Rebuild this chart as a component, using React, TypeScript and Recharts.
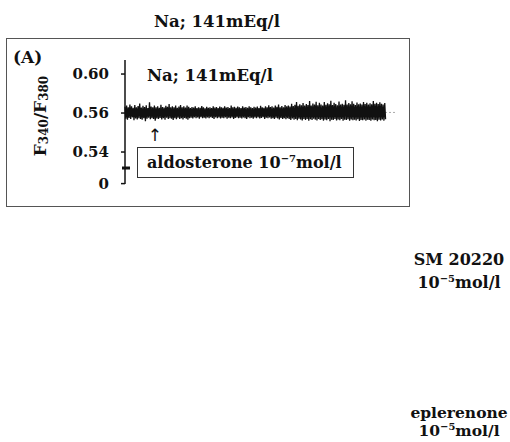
import { LineChart, Line, XAxis, YAxis, ReferenceLine } from 'recharts'

// F340/F380 trace (roughly one value per 0.8px column)
const ratio = [
  0.5632, 0.5571, 0.5638, 0.5566, 0.5629, 0.5575, 0.5644, 0.5569, 0.5634, 0.5578, 0.5627, 0.5563, 0.5641, 0.5572, 0.563, 0.5567, 0.5636, 0.5574, 0.5649, 0.557,
  0.5628, 0.5566, 0.5637, 0.5573, 0.5631, 0.5558, 0.564, 0.5571, 0.5626, 0.5576, 0.5655, 0.5568, 0.5633, 0.5574, 0.5629, 0.5569, 0.5639, 0.5561, 0.563, 0.5572,
  0.5635, 0.557, 0.5627, 0.5575, 0.5642, 0.5567, 0.5631, 0.5573, 0.5628, 0.5566, 0.5637, 0.5576, 0.5632, 0.5569, 0.5646, 0.5574, 0.5629, 0.5571, 0.5634, 0.5565,
  0.563, 0.5574, 0.5638, 0.5568, 0.5627, 0.5576, 0.5633, 0.557, 0.5641, 0.5573, 0.5629, 0.5567, 0.5635, 0.5575, 0.5628, 0.5571, 0.5639, 0.5566, 0.5632, 0.5573,
  0.5626, 0.5576, 0.5631, 0.5572, 0.5628, 0.5578, 0.5634, 0.5573, 0.5625, 0.5577, 0.563, 0.5571, 0.5627, 0.5579, 0.5636, 0.5574, 0.5629, 0.5576, 0.5624, 0.5572,
  0.5632, 0.5577, 0.5627, 0.5573, 0.563, 0.5579, 0.5625, 0.5575, 0.5635, 0.557, 0.5628, 0.5578, 0.5631, 0.5574, 0.5626, 0.5577, 0.5633, 0.5572, 0.5629, 0.5576,
  0.5627, 0.5574, 0.5634, 0.5578, 0.5628, 0.5571, 0.5631, 0.5576, 0.5625, 0.5573, 0.5638, 0.5577, 0.5629, 0.557, 0.5632, 0.5575, 0.5627, 0.5578, 0.5633, 0.5573,
  0.563, 0.5576, 0.5626, 0.5572, 0.5635, 0.5577, 0.5628, 0.5574, 0.5631, 0.5569, 0.5627, 0.5578, 0.5634, 0.5573, 0.5629, 0.5576, 0.5625, 0.5571, 0.5632, 0.5577,
  0.5628, 0.5573, 0.5633, 0.5578, 0.5626, 0.5572, 0.5637, 0.5575, 0.563, 0.5579, 0.5627, 0.557, 0.5634, 0.5576, 0.5629, 0.5573, 0.564, 0.5577, 0.5631, 0.5571,
  0.5635, 0.5574, 0.5628, 0.5569, 0.5638, 0.5576, 0.5632, 0.5572, 0.5643, 0.5567, 0.563, 0.5575, 0.5636, 0.557, 0.5629, 0.5573, 0.5641, 0.5568, 0.5634, 0.5574,
  0.5639, 0.5569, 0.5633, 0.5564, 0.5648, 0.5572, 0.5636, 0.5566, 0.5642, 0.557, 0.5657, 0.5563, 0.5637, 0.5571, 0.5645, 0.5567, 0.564, 0.5562, 0.5651, 0.5569,
  0.5638, 0.5565, 0.5646, 0.557, 0.5641, 0.556, 0.5662, 0.5568, 0.5639, 0.5564, 0.5649, 0.5571, 0.5643, 0.5566, 0.5658, 0.5562, 0.564, 0.5569, 0.5653, 0.5565,
  0.5644, 0.5568, 0.5639, 0.5561, 0.5656, 0.5567, 0.5642, 0.5563, 0.565, 0.557, 0.5645, 0.5558, 0.5663, 0.5566, 0.5641, 0.5564, 0.5652, 0.5569, 0.5646, 0.5562,
  0.564, 0.5567, 0.5659, 0.5563, 0.5643, 0.5569, 0.5648, 0.556, 0.5642, 0.5566, 0.5665, 0.5564, 0.5644, 0.5568, 0.5651, 0.5561, 0.5645, 0.5567, 0.566, 0.5563,
  0.5647, 0.5566, 0.5641, 0.5562, 0.5654, 0.5568, 0.5645, 0.5559, 0.5649, 0.5565, 0.5643, 0.5563, 0.5657, 0.5567, 0.5646, 0.5561, 0.5652, 0.5566, 0.5644, 0.5564,
  0.565, 0.556, 0.5645, 0.5567, 0.5661, 0.5563, 0.5647, 0.5565, 0.5653, 0.5558, 0.5646, 0.5566, 0.5655, 0.5562, 0.5648, 0.5567, 0.5644, 0.5561, 0.5651, 0.5568,
]

// the printed axis has evenly spaced labels; these are the positions they sit at
const yTicks = [0.5238, 0.54, 0.56, 0.58]
const yTickLabels = ['0', '0.54', '0.56', '0.60']
const breakAt = 0.5318
const baseline = 0.5603
const stimulusAt = 34
const xEnd = 333

const data = ratio.map((v, i) => ({ t: i, v }))

const serif = '"DejaVu Serif", serif'

function YLabel(props: any) {
  const vb = props.viewBox || {}
  const cx = vb.x + 40
  const cy = vb.y + vb.height / 2 - 6
  return (
    <text x={cx} y={cy} transform={`rotate(-90 ${cx} ${cy})`} textAnchor="middle" dominantBaseline="central"
      fontFamily={serif} fontWeight="bold" fontSize={17} fill="#111">
      F<tspan fontSize={12} dy={4}>340</tspan><tspan dy={-4}>/F</tspan><tspan fontSize={12} dy={4}>380</tspan>
    </text>
  )
}

function BreakMark(props: any) {
  const { x1, y1 } = props
  return <line x1={x1 - 3} x2={x1 + 5} y1={y1} y2={y1} stroke="#111" strokeWidth={3} />
}

const sup = { fontSize: 10, lineHeight: 0, verticalAlign: 'super' }

export default function App() {
  const txt = { position: 'absolute' as const, fontFamily: serif, fontWeight: 'bold' as const, color: '#111', whiteSpace: 'nowrap' as const, lineHeight: 1 }
  return (
    <div style={{ position: 'absolute', left: 0, top: 0, width: 510, height: 442, background: '#fff' }}>
      <div style={{ ...txt, left: 154, top: 14, fontSize: 16.5 }}>Na; 141mEq/l</div>
      <div style={{ position: 'absolute', left: 6, top: 38, width: 402, height: 167, border: '1.5px solid #555' }} />
      <div style={{ ...txt, left: 13, top: 49, fontSize: 17 }}>(A)</div>
      <div style={{ position: 'absolute', left: 0, top: 0 }}>
        <LineChart width={510} height={442} data={data} margin={{ top: 60, right: 113, bottom: 258, left: 0 }}>
          <XAxis dataKey="t" type="number" domain={[0, xEnd]} hide />
          <YAxis type="number" domain={[0.5236, 0.5872]} ticks={yTicks} width={125} tickSize={4} tickMargin={12}
            tickFormatter={(v: number) => yTickLabels[yTicks.indexOf(v)]}
            tick={{ fill: '#111', fontFamily: serif, fontWeight: 'bold', fontSize: 15 }}
            axisLine={{ stroke: '#111', strokeWidth: 1.5 }} tickLine={{ stroke: '#111', strokeWidth: 1.5 }}
            label={<YLabel />} />
          <ReferenceLine y={baseline} segment={[{ x: ratio.length - 1, y: baseline }, { x: xEnd, y: baseline }]} stroke="#aaa" strokeDasharray="2 2" />
          <ReferenceLine y={breakAt} segment={[{ x: 0, y: breakAt }, { x: 1, y: breakAt }]} shape={<BreakMark />} />
          <Line dataKey="v" stroke="#111" strokeWidth={1.3} dot={false} isAnimationActive={false} />
        </LineChart>
      </div>
      <div style={{ ...txt, left: 147, top: 68, fontSize: 16.5 }}>Na; 141mEq/l</div>
      <div style={{ ...txt, left: 125 + stimulusAt * 0.818 - 5, top: 127, fontSize: 17, fontWeight: 'normal', color: '#111', fontFamily: '"DejaVu Sans", sans-serif' }}>↑</div>
      <div style={{ position: 'absolute', left: 137, top: 147, width: 215, height: 29, border: '1.5px solid #333' }} />
      <div style={{ ...txt, left: 147, top: 155, fontSize: 16 }}>aldosterone 10<span style={sup}>−7</span>mol/l</div>
      <div style={{ ...txt, left: 399, top: 248, width: 120, textAlign: 'center', fontSize: 16, lineHeight: '23px' }}>SM 20220<br />10<span style={sup}>−5</span>mol/l</div>
      <div style={{ ...txt, left: 399, top: 404, width: 120, textAlign: 'center', fontSize: 15.5, lineHeight: '18px' }}>eplerenone<br />10<span style={sup}>−5</span>mol/l</div>
    </div>
  )
}
